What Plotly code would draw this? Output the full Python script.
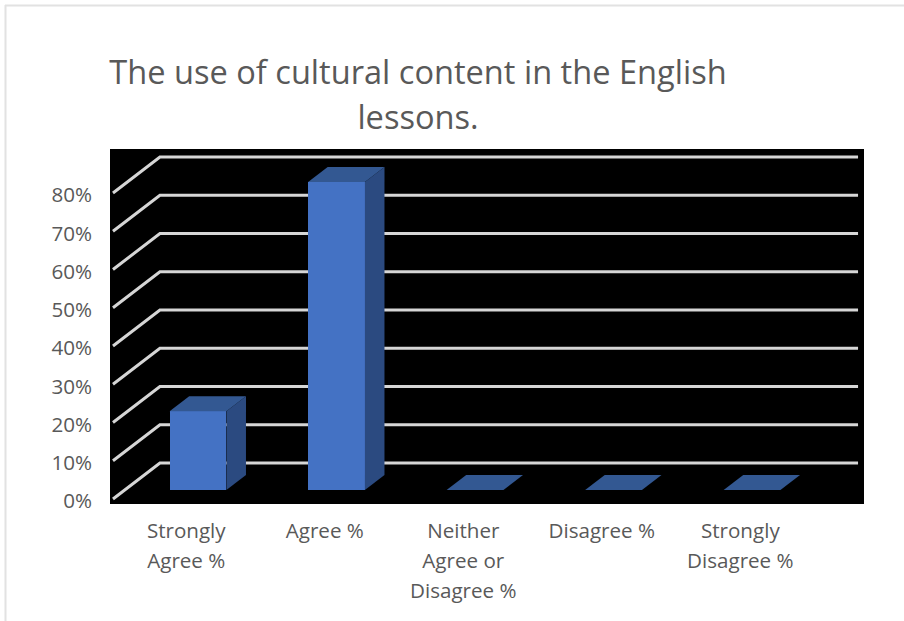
import plotly.graph_objects as go

# Survey results
categories = ["Strongly<br>Agree %", "Agree %", "Neither<br>Agree or<br>Disagree %", "Disagree %", "Strongly<br>Disagree %"]
agreement_pct = [20.6, 80.5, 0, 0, 0]
grid_values = [0, 10, 20, 30, 40, 50, 60, 70, 80]
tick_labels = ["0%", "10%", "20%", "30%", "40%", "50%", "60%", "70%", "80%"]

TITLE = "The use of cultural content in the English<br>lessons."
TEXT_COLOR = "#595959"
FRONT, SIDE, TOP = "#4472C4", "#2B4A80", "#335892"
GRID = "#D6D6D6"
FRAME = "#E2E2E2"

WIDTH, HEIGHT = 904, 621
MARGIN = dict(l=110, r=40, t=149, b=117)

# Oblique projection: depth 0 is the front of the floor, depth 1 the back wall.
DEPTH_X = 0.339     # category units
DEPTH_Y = 9.4       # percentage points
BAR_WIDTH = 0.41
BAR_FRONT, BAR_BACK = 0.25, 0.667
X_RANGE = [-0.5505, 4.893]
Y_RANGE = [-1.31, 91.5]
GRID_LEFT, GRID_RIGHT = -0.529, 4.511


def project(cat, value, depth):
    return cat + depth * DEPTH_X, value + depth * DEPTH_Y


def polygon(corners):
    xs, ys = zip(*(project(*c) for c in corners))
    return list(xs) + [xs[0]], list(ys) + [ys[0]]


fig = go.Figure()
positions = list(range(len(categories)))

# Front faces
fig.add_trace(go.Bar(
    x=[p + BAR_FRONT * DEPTH_X for p in positions],
    y=agreement_pct,
    base=BAR_FRONT * DEPTH_Y,
    width=BAR_WIDTH,
    marker=dict(color=FRONT, line=dict(width=0)),
    hoverinfo="skip",
    showlegend=False,
))

# Side and top faces of each column
half = BAR_WIDTH / 2
for p, v in zip(positions, agreement_pct):
    left, right = p - half, p + half
    faces = []
    if v > 0:
        faces.append((SIDE, [(right, 0, BAR_FRONT), (right, 0, BAR_BACK),
                             (right, v, BAR_BACK), (right, v, BAR_FRONT)]))
    faces.append((TOP, [(left, v, BAR_FRONT), (right, v, BAR_FRONT),
                        (right, v, BAR_BACK), (left, v, BAR_BACK)]))
    for color, corners in faces:
        xs, ys = polygon(corners)
        fig.add_trace(go.Scatter(
            x=xs, y=ys, mode="lines", fill="toself", fillcolor=color,
            line=dict(width=0, color=color), hoverinfo="skip", showlegend=False,
        ))

# Gridlines run up the floor edge, then along the back wall, beneath the columns
shapes = []
for g in grid_values:
    x0, y0 = project(GRID_LEFT, g, 0)
    x1, y1 = project(GRID_LEFT, g, 1)
    x2, y2 = project(GRID_RIGHT, g, 1)
    shapes.append(dict(
        type="path", layer="below", xref="x", yref="y",
        path=f"M {x0} {y0} L {x1} {y1} L {x2} {y2}",
        line=dict(color=GRID, width=3),
    ))

# Thin page border along the top and left
plot_w = WIDTH - MARGIN["l"] - MARGIN["r"]
plot_h = HEIGHT - MARGIN["t"] - MARGIN["b"]
def px(v):
    return (v - MARGIN["l"]) / plot_w
def py(v):
    return 1 - (v - MARGIN["t"]) / plot_h
shapes.append(dict(type="line", xref="paper", yref="paper", layer="above",
                   x0=px(5), x1=px(904), y0=py(5.5), y1=py(5.5),
                   line=dict(color=FRAME, width=2)))
shapes.append(dict(type="line", xref="paper", yref="paper", layer="above",
                   x0=px(5.5), x1=px(5.5), y0=py(5), y1=py(621),
                   line=dict(color=FRAME, width=2)))

FONT = "Open Sans, sans-serif"
fig.update_layout(
    width=WIDTH, height=HEIGHT, margin=MARGIN,
    paper_bgcolor="white", plot_bgcolor="black",
    bargap=0, shapes=shapes, showlegend=False,
    title=dict(
        text=f'<span style="font-size:32.6px">{TITLE}</span>'.replace(
            "<br>", '</span><br><span style="font-size:32.6px">'),
        font=dict(family=FONT, size=34.6, color=TEXT_COLOR),
        x=418 / WIDTH, xanchor="center", y=1 - 84 / HEIGHT, yanchor="bottom",
    ),
    xaxis=dict(
        range=X_RANGE, tickmode="array", tickvals=positions,
        ticktext=[
            '<br>'.join(f'<span style="font-size:20.6px">{part}</span>' for part in c.split("<br>"))
            for c in categories
        ],
        tickfont=dict(family=FONT, size=23, color=TEXT_COLOR),
        showgrid=False, zeroline=False, showline=False, ticks="", tickangle=0,
        ticklabelstandoff=10,
    ),
    yaxis=dict(
        range=Y_RANGE, tickmode="array", tickvals=grid_values,
        ticktext=[f'<span style="font-size:20.6px">{t}</span>' for t in tick_labels],
        tickfont=dict(family=FONT, size=27, color=TEXT_COLOR),
        showgrid=False, zeroline=False, showline=False, ticks="",
        ticklabelstandoff=17,
    ),
)

fig.write_html("out.html", config=dict(displayModeBar=False))
